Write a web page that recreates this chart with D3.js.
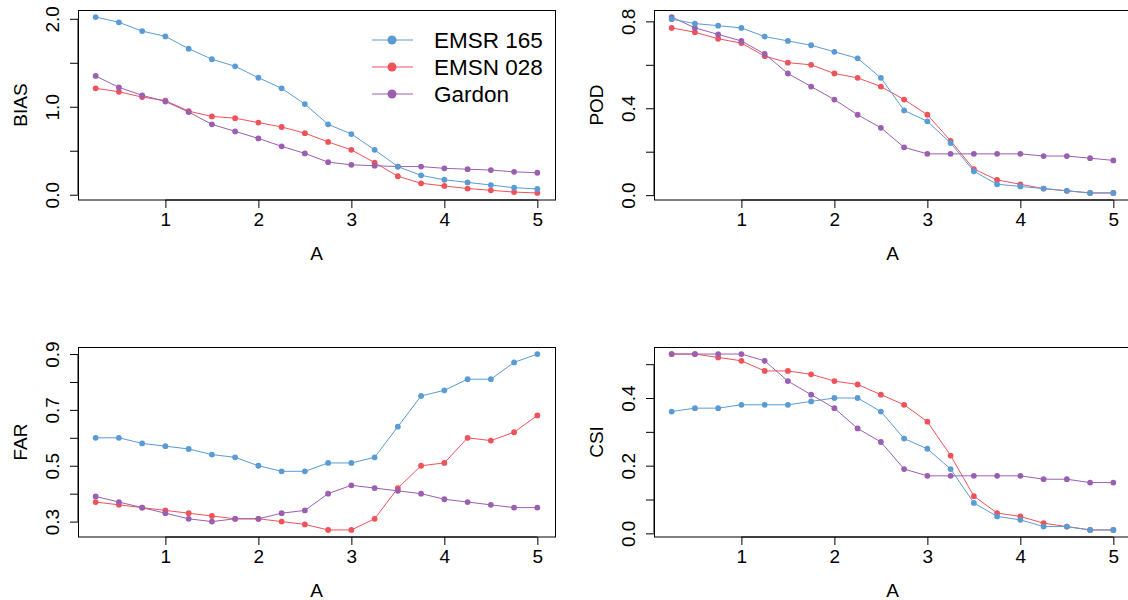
<!DOCTYPE html>
<html>
<head>
<meta charset="utf-8">
<script src="https://cdn.jsdelivr.net/npm/d3@7"></script>
<style>
  body { margin: 0; background: #fff; }
  text { font-family: "Liberation Sans", Arial, Helvetica, sans-serif; }
</style>
</head>
<body>
<script>
var W = 1128, H = 600;

// threshold values on the x axis
var aVals = [0.25, 0.5, 0.75, 1, 1.25, 1.5, 1.75, 2, 2.25, 2.5, 2.75, 3, 3.25, 3.5, 3.75, 4, 4.25, 4.5, 4.75, 5];
var xTicks = [1, 2, 3, 4, 5];

var seriesNames = ["EMSR 165", "EMSN 028", "Gardon"];
var colors = ["#5b9bd5", "#f0525a", "#9b5fb2"];

// BIAS
var biasEmsr = [2.02, 1.96, 1.86, 1.80, 1.66, 1.54, 1.46, 1.33, 1.21, 1.03, 0.80, 0.69, 0.51, 0.32, 0.22, 0.17, 0.14, 0.11, 0.08, 0.065];
var biasEmsn = [1.21, 1.17, 1.11, 1.07, 0.95, 0.89, 0.87, 0.82, 0.77, 0.70, 0.60, 0.51, 0.365, 0.21, 0.13, 0.10, 0.07, 0.05, 0.03, 0.02];
var biasGardon = [1.35, 1.22, 1.13, 1.06, 0.94, 0.80, 0.72, 0.64, 0.55, 0.47, 0.37, 0.34, 0.33, 0.32, 0.32, 0.30, 0.29, 0.28, 0.26, 0.25];

// POD
var podEmsr = [0.81, 0.79, 0.78, 0.77, 0.73, 0.71, 0.69, 0.66, 0.63, 0.54, 0.39, 0.34, 0.24, 0.11, 0.05, 0.04, 0.03, 0.02, 0.01, 0.01];
var podEmsn = [0.77, 0.75, 0.72, 0.70, 0.64, 0.61, 0.60, 0.56, 0.54, 0.50, 0.44, 0.37, 0.25, 0.12, 0.07, 0.05, 0.03, 0.02, 0.01, 0.01];
var podGardon = [0.82, 0.77, 0.74, 0.71, 0.65, 0.56, 0.50, 0.44, 0.37, 0.31, 0.22, 0.19, 0.19, 0.19, 0.19, 0.19, 0.18, 0.18, 0.17, 0.16];

// FAR
var farEmsr = [0.60, 0.60, 0.58, 0.57, 0.56, 0.54, 0.53, 0.50, 0.48, 0.48, 0.51, 0.51, 0.53, 0.64, 0.75, 0.77, 0.81, 0.81, 0.87, 0.90];
var farEmsn = [0.37, 0.36, 0.35, 0.34, 0.33, 0.32, 0.31, 0.31, 0.30, 0.29, 0.27, 0.27, 0.31, 0.42, 0.50, 0.51, 0.60, 0.59, 0.62, 0.68];
var farGardon = [0.39, 0.37, 0.35, 0.33, 0.31, 0.30, 0.31, 0.31, 0.33, 0.34, 0.40, 0.43, 0.42, 0.41, 0.40, 0.38, 0.37, 0.36, 0.35, 0.35];

// CSI
var csiEmsr = [0.36, 0.37, 0.37, 0.38, 0.38, 0.38, 0.39, 0.40, 0.40, 0.36, 0.28, 0.25, 0.19, 0.09, 0.05, 0.04, 0.02, 0.02, 0.01, 0.01];
var csiEmsn = [0.53, 0.53, 0.52, 0.51, 0.48, 0.48, 0.47, 0.45, 0.44, 0.41, 0.38, 0.33, 0.23, 0.11, 0.06, 0.05, 0.03, 0.02, 0.01, 0.01];
var csiGardon = [0.53, 0.53, 0.53, 0.53, 0.51, 0.45, 0.41, 0.37, 0.31, 0.27, 0.19, 0.17, 0.17, 0.17, 0.17, 0.17, 0.16, 0.16, 0.15, 0.15];

// y ticks and which ones carry a label
var biasTicks = [0, 0.5, 1, 1.5, 2], biasLabels = [0, 1, 2];
var podTicks = [0, 0.2, 0.4, 0.6, 0.8], podLabels = [0, 0.4, 0.8];
var farTicks = [0.3, 0.4, 0.5, 0.6, 0.7, 0.8, 0.9], farLabels = [0.3, 0.5, 0.7, 0.9];
var csiTicks = [0, 0.1, 0.2, 0.3, 0.4, 0.5], csiLabels = [0, 0.2, 0.4];

var panels = [
  {title: "BIAS", left: 78, top: 10, series: [biasEmsr, biasEmsn, biasGardon], ticks: biasTicks, labels: biasLabels, legend: true},
  {title: "POD", left: 654, top: 10, series: [podEmsr, podEmsn, podGardon], ticks: podTicks, labels: podLabels},
  {title: "FAR", left: 78, top: 347, series: [farEmsr, farEmsn, farGardon], ticks: farTicks, labels: farLabels},
  {title: "CSI", left: 654, top: 347, series: [csiEmsr, csiEmsn, csiGardon], ticks: csiTicks, labels: csiLabels}
];
var pw = 477, ph = 190;
var fs = 19;
var drawOrder = [1, 2, 0];

var svg = d3.select("body").append("svg")
    .attr("width", W)
    .attr("height", H);

// R style 4% range padding
function padded(lo, hi) {
  var d = (hi - lo) * 0.04;
  return [lo - d, hi + d];
}

panels.forEach(function(p) {
  var g = svg.append("g").attr("transform", "translate(" + p.left + "," + p.top + ")");

  var x = d3.scaleLinear().domain(padded(d3.min(aVals), d3.max(aVals))).range([0, pw]);
  var all = d3.merge(p.series);
  var y = d3.scaleLinear().domain(padded(d3.min(all), d3.max(all))).range([ph, 0]);

  // box
  g.append("rect")
    .attr("x", 0.5).attr("y", 0.5)
    .attr("width", pw).attr("height", ph - 0.5)
    .attr("fill", "none").attr("stroke", "#000").attr("stroke-width", 1);

  var xAxis = g.append("g")
    .attr("transform", "translate(0," + ph + ")")
    .call(d3.axisBottom(x).tickValues(xTicks).tickSize(8).tickSizeOuter(0).tickPadding(5).tickFormat(d3.format("d")));
  xAxis.select(".domain").remove();
  xAxis.append("line")
    .attr("x1", x(xTicks[0])).attr("x2", x(xTicks[xTicks.length - 1]))
    .attr("stroke", "#000");
  xAxis.selectAll("text").attr("font-size", fs).attr("fill", "#000").attr("font-family", null);

  var yAxis = g.append("g")
    .call(d3.axisLeft(y).tickValues(p.ticks).tickSize(8).tickSizeOuter(0)
      .tickFormat(function(d) {
        return p.labels.some(function(l) { return Math.abs(l - d) < 1e-9; }) ? d3.format(".1f")(d) : "";
      }));
  yAxis.select(".domain").remove();
  yAxis.append("line")
    .attr("y1", y(p.ticks[0])).attr("y2", y(p.ticks[p.ticks.length - 1]))
    .attr("stroke", "#000");
  yAxis.selectAll(".tick text")
    .attr("font-size", fs).attr("fill", "#000").attr("font-family", null)
    .attr("x", null).attr("dy", null)
    .attr("text-anchor", "middle")
    .attr("dominant-baseline", "central")
    .attr("transform", "translate(-26,0) rotate(-90)");

  g.append("text")
    .attr("x", pw / 2).attr("y", ph + 53)
    .attr("text-anchor", "middle").attr("dominant-baseline", "central")
    .attr("font-size", fs)
    .text("A");

  g.append("text")
    .attr("transform", "translate(-58," + (ph / 2) + ") rotate(-90)")
    .attr("text-anchor", "middle").attr("dominant-baseline", "central")
    .attr("font-size", fs)
    .text(p.title);

  var line = d3.line()
    .x(function(d, i) { return x(aVals[i]); })
    .y(function(d) { return y(d); });

  drawOrder.forEach(function(k) {
    var s = p.series[k];
    g.append("path")
      .datum(s)
      .attr("d", line)
      .attr("fill", "none")
      .attr("stroke", colors[k])
      .attr("stroke-width", 1);
    g.selectAll(null)
      .data(s)
      .enter().append("circle")
      .attr("cx", function(d, i) { return x(aVals[i]); })
      .attr("cy", function(d) { return y(d); })
      .attr("r", 2.9)
      .attr("fill", colors[k]);
  });

  if (p.legend) {
    var lg = g.append("g").attr("transform", "translate(294,30)");
    seriesNames.forEach(function(name, k) {
      var row = lg.append("g").attr("transform", "translate(0," + (k * 27) + ")");
      row.append("line").attr("x1", 0).attr("x2", 41).attr("stroke", colors[k]);
      row.append("circle").attr("cx", 20).attr("r", 4.5).attr("fill", colors[k]);
      row.append("text")
        .attr("x", 62).attr("dominant-baseline", "central")
        .attr("font-size", 22.5)
        .text(name);
    });
  }
});
</script>
</body>
</html>
